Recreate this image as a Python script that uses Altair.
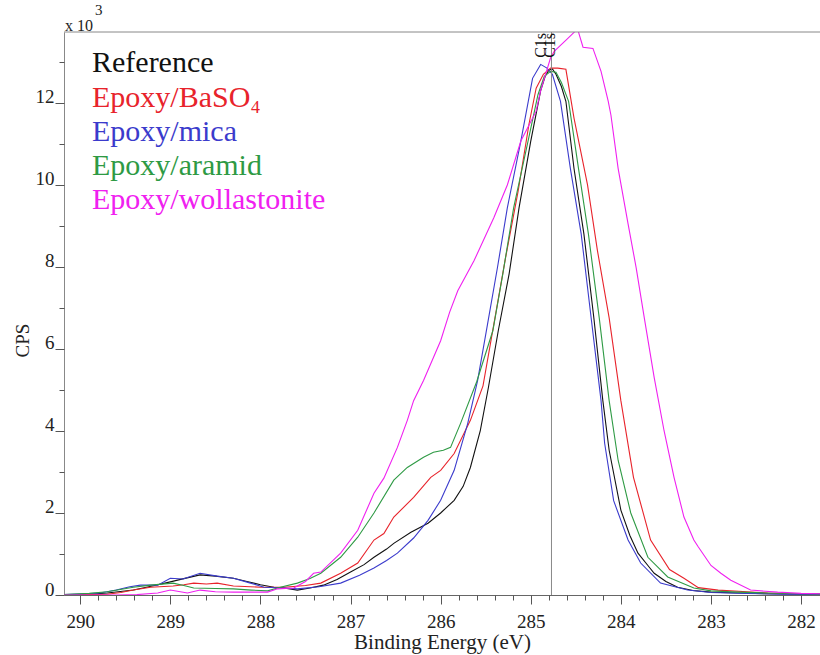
import altair as alt
import pandas as pd

# ---- data (binding energy in eV, intensity in counts per second) ----
series = ["Reference", "Epoxy/BaSO₄", "Epoxy/mica", "Epoxy/aramid", "Epoxy/wollastonite"]
colors = ["#111111", "#e8232b", "#3b3bcc", "#2e9a44", "#f020f0"]

ref_E = [290.18, 289.9, 289.7, 289.41, 289.2, 289.0, 288.85, 288.67, 288.5, 288.3, 288.15, 288.0,
         287.85, 287.74, 287.59, 287.45, 287.3, 287.15, 287.0, 286.85, 286.74, 286.6, 286.52, 286.33,
         286.14, 286.0, 285.85, 285.75, 285.67, 285.56, 285.47, 285.36, 285.24, 285.13, 285.0, 284.89,
         284.84, 284.8, 284.76, 284.72, 284.66, 284.61, 284.52, 284.41, 284.3, 284.2, 284.13, 284.0,
         283.9, 283.81, 283.7, 283.63, 283.5, 283.37, 283.2, 283.0, 282.7, 282.4, 282.0, 281.79]
ref_cps = [10, 20, 50, 120, 220, 320, 400, 490, 460, 410, 330, 250,
           190, 170, 120, 170, 240, 380, 560, 740, 920, 1120, 1260, 1530,
           1750, 2000, 2310, 2650, 3110, 4010, 5060, 6450, 7830, 9440, 11070, 12300,
           12650, 12800, 12830, 12700, 12400, 12040, 10400, 8800, 6760, 4740, 3530, 2070,
           1450, 1020, 720, 530, 330, 190, 110, 70, 50, 30, 20, 15]

baso4_E = [290.18, 289.9, 289.7, 289.55, 289.41, 289.22, 288.97, 288.85, 288.74, 288.6, 288.48, 288.3,
           288.0, 287.74, 287.5, 287.33, 287.11, 286.92, 286.74, 286.63, 286.52, 286.3, 286.11, 286.0,
           285.85, 285.67, 285.53, 285.41, 285.28, 285.14, 285.02, 284.94, 284.86, 284.78, 284.7, 284.61,
           284.52, 284.37, 284.26, 284.13, 284.0, 283.86, 283.67, 283.46, 283.3, 283.14, 282.92, 282.6,
           282.37, 282.0, 281.79]
baso4_cps = [5, 10, 20, 60, 120, 190, 220, 250, 290, 270, 290, 220,
             190, 190, 230, 290, 530, 780, 1340, 1500, 1900, 2380, 2870, 3040,
             3450, 4260, 5100, 6600, 8220, 9850, 11480, 12360, 12700, 12850, 12850, 12820,
             11630, 10000, 8400, 6760, 4740, 2870, 1340, 620, 410, 180, 120, 80,
             50, 30, 25]

mica_E = [290.18, 289.95, 289.78, 289.6, 289.45, 289.33, 289.14, 289.0, 288.86, 288.67, 288.48, 288.3,
          288.11, 287.96, 287.74, 287.59, 287.35, 287.11, 286.9, 286.74, 286.6, 286.48, 286.3, 286.14,
          286.0, 285.85, 285.7, 285.59, 285.48, 285.37, 285.26, 285.11, 284.98, 284.89, 284.82, 284.76,
          284.67, 284.56, 284.44, 284.33, 284.22, 284.18, 284.08, 283.92, 283.78, 283.56, 283.26, 283.0,
          282.6, 282.2, 281.79]
mica_cps = [10, 30, 50, 120, 200, 240, 240, 410, 390, 530, 460, 410,
            290, 190, 170, 150, 200, 290, 480, 660, 840, 1020, 1390, 1820,
            2310, 3040, 4180, 5230, 6600, 7980, 9440, 11070, 12600, 12940, 12850, 12700,
            12040, 10400, 8800, 6760, 4740, 3700, 2300, 1340, 780, 290, 120, 60,
            40, 20, 15]

aramid_E = [290.18, 289.9, 289.7, 289.41, 289.22, 288.97, 288.85, 288.74, 288.5, 288.3, 288.1, 287.92,
            287.78, 287.59, 287.45, 287.33, 287.11, 286.92, 286.74, 286.52, 286.37, 286.19, 286.08, 285.97,
            285.89, 285.78, 285.6, 285.42, 285.31, 285.19, 285.03, 284.92, 284.85, 284.78, 284.72, 284.66,
            284.58, 284.47, 284.36, 284.24, 284.13, 284.03, 283.89, 283.7, 283.48, 283.19, 283.0, 282.7,
            282.4, 282.0, 281.79]
aramid_cps = [10, 40, 80, 190, 240, 290, 230, 170, 160, 150, 120, 100,
              190, 290, 400, 530, 920, 1410, 2000, 2800, 3110, 3360, 3480, 3530,
              3600, 4180, 5200, 6450, 7830, 9440, 11070, 12200, 12650, 12770, 12750, 12500,
              12040, 10400, 8800, 6760, 4740, 3280, 2000, 920, 440, 170, 100, 70,
              50, 30, 25]

woll_E = [290.18, 289.6, 289.37, 289.14, 289.0, 288.81, 288.67, 288.5, 288.3, 287.92, 287.81, 287.63,
          287.5, 287.41, 287.33, 287.11, 286.92, 286.74, 286.63, 286.48, 286.37, 286.3, 286.19, 286.0,
          285.9, 285.81, 285.63, 285.41, 285.26, 285.11, 284.94, 284.89, 284.78, 284.74, 284.6, 284.52,
          284.48, 284.42, 284.31, 284.22, 284.14, 284.11, 284.03, 283.92, 283.83, 283.74, 283.63, 283.52,
          283.41, 283.3, 283.19, 283.14, 283.0, 282.89, 282.78, 282.56, 282.26, 282.0, 281.79]
woll_cps = [0, 0, 10, 50, 120, 50, 120, 80, 70, 70, 150, 170,
            330, 530, 560, 1020, 1580, 2480, 2850, 3600, 4260, 4740, 5230, 6200,
            6900, 7420, 8150, 9200, 10000, 11070, 11800, 12300, 13100, 13260, 13550, 13720,
            13800, 13360, 13330, 12770, 12040, 11700, 10400, 9050, 7980, 6760, 5300, 4000,
            2870, 1900, 1340, 1170, 720, 530, 360, 120, 70, 40, 30]

x_major = [282, 283, 284, 285, 286, 287, 288, 289, 290]
x_minor = [round(282 + 0.2 * i, 1) for i in range(41)]
y_major = [0, 2000, 4000, 6000, 8000, 10000, 12000]
y_minor = [1000 * i for i in range(14)]
c1s_line_E = [284.77]
c1s_label_E = [284.89, 284.79]
c1s_label_cps = [13100, 13100]

# ---- build table ----
parts = []
for name, E, c in [(series[0], ref_E, ref_cps), (series[1], baso4_E, baso4_cps),
                   (series[2], mica_E, mica_cps), (series[3], aramid_E, aramid_cps),
                   (series[4], woll_E, woll_cps)]:
    parts.append(pd.DataFrame({"E": E, "cps": c, "series": name}))
df = pd.concat(parts, ignore_index=True)

FONT = "'Times New Roman', 'Liberation Serif', serif"
XMIN, XMAX = 281.79, 290.18
YMAX = 13730
xs = alt.Scale(domain=[XMIN, XMAX], reverse=True, nice=False, zero=False)
ys = alt.Scale(domain=[0, YMAX], nice=False, zero=False)

lines = alt.Chart(df).mark_line(clip=True, strokeWidth=1.1).encode(
    x=alt.X("E:Q", scale=xs, axis=alt.Axis(
        orient="bottom", values=x_major, tickSize=9, tickColor="#555", domainColor="#666",
        labelFont=FONT, labelFontSize=19, labelColor="#222", labelPadding=8, grid=False,
        title="Binding Energy (eV)", titleFont=FONT, titleFontSize=21, titleFontWeight="normal",
        titleColor="#222", titleBaseline="alphabetic", titleY=53)),
    y=alt.Y("cps:Q", scale=ys, axis=alt.Axis(
        orient="left", values=y_major, tickSize=9, tickColor="#555", domainColor="#888",
        labelExpr="format(datum.value / 1000, 'd')", labelFont=FONT, labelFontSize=19,
        labelColor="#222", labelBaseline="alphabetic", labelPadding=1, grid=False,
        title="CPS", titleFont=FONT, titleFontSize=19, titleFontWeight="normal", titleColor="#222",
        titleAngle=270, titleX=-42, titleY=308, titleAlign="center", titleBaseline="middle")),
    color=alt.Color("series:N", scale=alt.Scale(domain=series, range=colors), legend=None),
)

rule_df = pd.DataFrame({"E": c1s_line_E, "y0": [0], "y1": [YMAX]})
vline = alt.Chart(rule_df).mark_rule(color="#888", strokeWidth=1).encode(
    x=alt.X("E:Q", scale=xs, axis=alt.Axis(
        orient="bottom", values=x_minor, tickSize=5, tickColor="#555", labels=False,
        domain=False, title=None, grid=False)),
    y=alt.Y("y0:Q", scale=ys, axis=alt.Axis(
        orient="left", values=y_minor, tickSize=5, tickColor="#555", labels=False,
        domain=False, title=None, grid=False)),
    y2="y1:Q",
)

top_df = pd.DataFrame({"top": [YMAX]})
topline = alt.Chart(top_df).mark_rule(color="#888", strokeWidth=1).encode(
    y=alt.Y("top:Q", scale=ys, axis=None)
)

pk_df = pd.DataFrame({"E": c1s_label_E, "cps": c1s_label_cps, "t": ["C1s", "C1s"]})
peak_labels = alt.Chart(pk_df).mark_text(
    angle=270, align="left", baseline="middle", font=FONT, fontSize=16, color="#111"
).encode(
    x=alt.X("E:Q", scale=xs, axis=None),
    y=alt.Y("cps:Q", scale=ys, axis=None),
    text="t:N",
)

legend_y = [40, 75, 108.5, 143, 176.5]
legend_layers = []
for name, col, yy in zip(series, colors, legend_y):
    legend_layers.append(
        alt.Chart(pd.DataFrame({"t": [name]})).mark_text(
            align="left", baseline="alphabetic", font=FONT, fontSize=30, color=col
        ).encode(text="t:N", x=alt.value(28), y=alt.value(yy))
    )

mult = alt.Chart(pd.DataFrame({"t": ["x 10"]})).mark_text(
    align="left", baseline="alphabetic", font=FONT, fontSize=16, color="#222"
).encode(text="t:N", x=alt.value(1), y=alt.value(-1))
expo = alt.Chart(pd.DataFrame({"t": ["3"]})).mark_text(
    align="left", baseline="alphabetic", font=FONT, fontSize=15, color="#222"
).encode(text="t:N", x=alt.value(31), y=alt.value(-17))

chart = alt.layer(
    lines, vline, topline, peak_labels, *legend_layers, mult, expo
).resolve_axis(x="independent", y="independent").properties(
    width=756, height=563,
    autosize=alt.AutoSizeParams(type="none"),
    padding={"left": 64, "top": 32, "right": 0, "bottom": 60},
    background="white",
).configure_view(stroke=None)

chart.save("out.html", embed_options={"renderer": "svg", "actions": False})
